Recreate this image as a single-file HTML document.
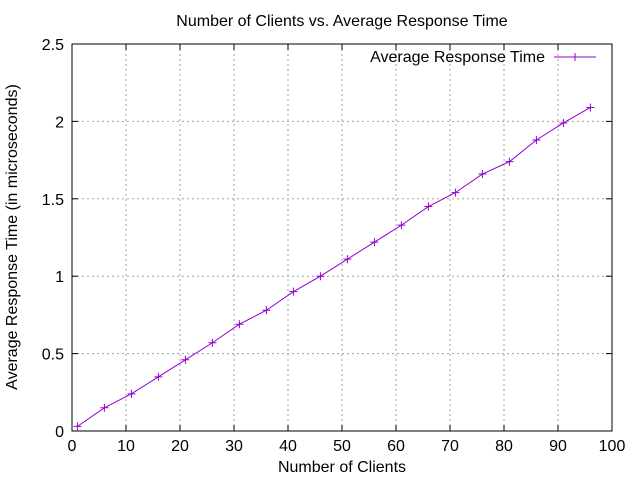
<!DOCTYPE html>
<html><head><meta charset="utf-8"><style>body{margin:0;background:#fff}svg{font-family:"Liberation Sans",sans-serif}</style></head>
<body>
<svg id="chart" width="640" height="480" xmlns="http://www.w3.org/2000/svg">
<text x="342" y="26" font-size="16" text-anchor="middle">Number of Clients vs. Average Response Time</text>
<text x="342" y="472" font-size="16" text-anchor="middle">Number of Clients</text>
<text transform="translate(17,237) rotate(-90)" font-size="16" text-anchor="middle">Average Response Time (in microseconds)</text>
<g id="grid"></g><g id="ticks"></g>
<rect x="72" y="44" width="540" height="387" fill="none" stroke="#000" stroke-width="1"/>
<g>
<text x="545" y="62" font-size="16" text-anchor="end">Average Response Time</text>
<line x1="554" y1="57" x2="596" y2="57" stroke="#9400d3"/>
<path d="M571,57h8M575,53v8" stroke="#9400d3"/>
</g>
<g id="series"></g>
</svg>
<script>
const xTicks=[0,10,20,30,40,50,60,70,80,90,100];
const yTicks=[0,0.5,1,1.5,2,2.5];
const yTickLabels=["0","0.5","1","1.5","2","2.5"];
const clients=[1,6,11,16,21,26,31,36,41,46,51,56,61,66,71,76,81,86,91,96];
const responseTimes=[0.03,0.15,0.24,0.35,0.46,0.57,0.69,0.78,0.90,1.00,1.11,1.22,1.33,1.45,1.54,1.66,1.74,1.88,1.99,2.09];
const X=v=>72+v*5.4, Y=v=>431-v*154.8;
const NS="http://www.w3.org/2000/svg";
function mk(t,a,p){const e=document.createElementNS(NS,t);for(const k in a)e.setAttribute(k,a[k]);p.appendChild(e);return e;}
const grid=document.getElementById('grid'),ticks=document.getElementById('ticks'),ser=document.getElementById('series');
xTicks.forEach(v=>{const x=X(v);
 if(v>0&&v<100){const g=mk('line',{x1:x,y1:44,x2:x,y2:431,stroke:'#a0a0a0','stroke-dasharray':'2,3'},grid);
 
 }
 mk('line',{x1:x,y1:431,x2:x,y2:425,stroke:'#000'},ticks);mk('line',{x1:x,y1:44,x2:x,y2:50,stroke:'#000'},ticks);
 const t=mk('text',{x:x,y:451,'font-size':16,'text-anchor':'middle'},ticks);t.textContent=v;
 
 });
yTicks.forEach((v,i)=>{const y=Y(v);
 if(v>0&&v<2.5){const g=mk('line',{x1:72,y1:y,x2:612,y2:y,stroke:'#a0a0a0','stroke-dasharray':'2,3'},grid);
 
 }
 mk('line',{x1:72,y1:y,x2:78,y2:y,stroke:'#000'},ticks);mk('line',{x1:612,y1:y,x2:606,y2:y,stroke:'#000'},ticks);
 const t=mk('text',{x:64,y:y+6,'font-size':16,'text-anchor':'end'},ticks);t.textContent=yTickLabels[i];
 
 });
const pl=mk('polyline',{points:clients.map((c,i)=>X(c)+','+Y(responseTimes[i])).join(' '),fill:'none',stroke:'#9400d3'},ser);


clients.forEach((c,i)=>{const x=X(c),y=Y(responseTimes[i]);
 const p=mk('path',{d:`M${x-4},${y}h8M${x},${y-4}v8`,stroke:'#9400d3'},ser);
 
 });
</script>
</body></html>
